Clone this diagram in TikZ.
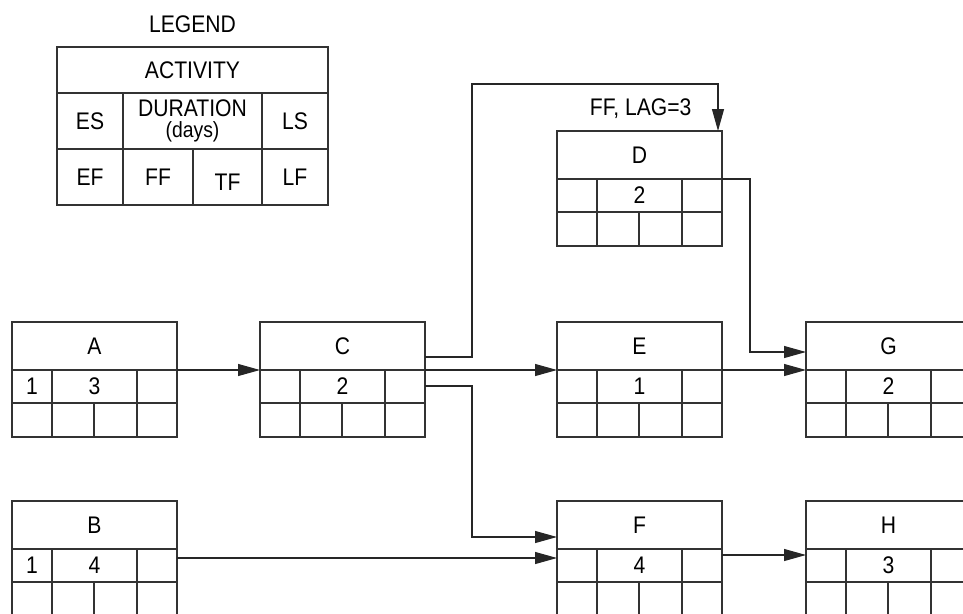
\documentclass[tikz,border=0pt]{standalone}
\usepackage{fontspec}
\setmainfont{Liberation Sans}[FakeStretch=0.88]
\usetikzlibrary{arrows.meta,positioning}
\begin{document}
\begin{tikzpicture}[
  x=1pt,y=-1pt,
  font=\fontsize{24}{24}\selectfont,
  line width=1.1pt,
  cell/.style={draw=black!80,inner sep=0pt,outer sep=0pt,align=center},
  title/.style={cell,minimum width=165pt,minimum height=48pt},
  mid/.style={cell,minimum height=33pt},
  low/.style={cell,minimum height=34pt},
  lgcell/.style={cell,minimum height=56pt},
  ar/.style={draw=black!85,-{Triangle[length=22pt,width=12pt]}}]

\useasboundingbox (0,0) rectangle (963,613);
\clip (0,0) rectangle (963,613);

\node[cell,minimum width=271pt,minimum height=46pt,anchor=north west] (lg) at (57,47) {ACTIVITY};
\node[inner sep=0pt,above=14pt of lg] (lgtitle) {LEGEND};
\node[lgcell,minimum width=66pt,below right=0pt and 0pt of lg.south west] (lg-es) {ES};
\node[lgcell,minimum width=139pt,right=0pt of lg-es] (lg-dur) {DURATION\\[-3pt]{\fontsize{22}{22}\selectfont(days)}};
\node[lgcell,minimum width=66pt,right=0pt of lg-dur] (lg-ls) {LS};
\node[lgcell,minimum width=66pt,below=0pt of lg-es] (lg-ef) {EF};
\node[lgcell,minimum width=70pt,right=0pt of lg-ef] (lg-ff) {FF};
\node[lgcell,minimum width=69pt,right=0pt of lg-ff,text height=27pt] (lg-tf) {TF};
\node[lgcell,minimum width=66pt,right=0pt of lg-tf] (lg-lf) {LF};

\node[title,anchor=north west] (A) at (12,322) {A};
\node[title,right=83pt of A] (C) {C};
\node[title,right=132pt of C] (E) {E};
\node[title,right=84pt of E] (G) {G};
\node[title,above=143pt of E] (D) {D};
\node[title,below=131pt of A] (B) {B};
\node[title,below=131pt of E] (F) {F};
\node[title,below=131pt of G] (H) {H};

\foreach \n/\es/\d in {A/1/3,B/1/4,C//2,D//2,E//1,F//4,G//2,H//3}{
  \node[mid,minimum width=40pt,below right=0pt and 0pt of \n.south west] (\n-es) {\es};
  \node[mid,minimum width=85pt,right=0pt of \n-es] (\n-dur) {\d};
  \node[mid,minimum width=40pt,right=0pt of \n-dur] (\n-ls) {};
  \node[low,minimum width=40pt,below=0pt of \n-es] (\n-ef) {};
  \node[low,minimum width=42pt,right=0pt of \n-ef] (\n-ff) {};
  \node[low,minimum width=43pt,right=0pt of \n-ff] (\n-tf) {};
  \node[low,minimum width=40pt,right=0pt of \n-tf] (\n-lf) {};
}

\node[inner sep=0pt,above left=12pt and 30pt of D.north east] (lag) {FF, LAG=3};

\draw[ar] (A.south east) -- (C.south west);
\draw[ar] ([yshift=-11pt]C.east) -- ++(47pt,0pt) |- ([xshift=-4pt,yshift=47pt]D.north east) -- ([xshift=-4pt]D.north east);
\draw[ar] (C.south east) -- (E.south west);
\draw[ar] ([yshift=-16pt]C.south east) -- ++(47pt,0pt) |- ([yshift=12pt]F.south west);
\draw[ar] (D.south east) -- ++(28pt,0pt) |- ([yshift=18pt]G.south west);
\draw[ar] (E.south east) -- (G.south west);
\draw[ar] ([yshift=-9pt]B.south east) -- ([yshift=-9pt]F.south west);
\draw[ar] ([yshift=-6pt]F.south east) -- ([yshift=-6pt]H.south west);
\end{tikzpicture}
\end{document}
